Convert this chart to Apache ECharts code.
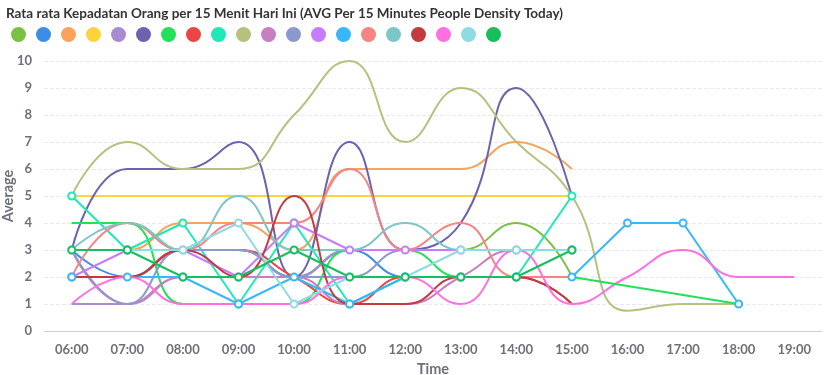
<!DOCTYPE html>
<html>
<head>
<meta charset="utf-8">
<script src="https://cdn.jsdelivr.net/npm/echarts@6/dist/echarts.min.js"></script>
<style>
html,body{margin:0;padding:0;background:#fff;}
#c{width:824px;height:375px;}
</style>
</head>
<body>
<div id="c"></div>
<script>
const categories = ['06:00','07:00','08:00','09:00','10:00','11:00','12:00','13:00','14:00','15:00','16:00','17:00','18:00','19:00'];
const yTicks = [0,1,2,3,4,5,6,7,8,9,10];

// series values (null = no data)
const lime      = [4,4,3,3,2,3,3,3,4,2];
const blue      = [3,2,3,3,2,3,2,2,2,2];
const orange    = [3,3,4,4,3,6,6,6,7,6];
const yellow    = [5,5,5,5,5,5,5,5,5,5];
const lavender  = [1,1,2,2,2,3,3,3,3,3];
const indigo    = [3,6,6,7,2,7,3,4,9,5];
const green     = [4,4,1,1,1,3,3,2,2,2];
const greenTail = [null,null,null,null,null,null,null,null,null,2,null,null,1];
const red       = [2,2,3,3,2,1,2,2,2,1];
const mint      = [5,3,4,1,4,1,2,2,2,5];
const olive     = [5,7,6,6,8,10,7,9,7,5,0.75,1,1];
const orchid    = [3,1,2,2,2,1,1,2,3,3];
const slate     = [3,1,3,3,2,2,3,3,3,3];
const violet    = [2,3,3,2,4,3,3,3,3,3];
const sky       = [2,2,2,1,2,1,2,2,2,2,4,4,1];
const salmon    = [2,4,3,4,4,6,3,4,2,2];
const tealgray  = [3,4,3,5,3,3,4,3,3,3];
const darkred   = [2,2,3,2,5,1,1,2,2,1];
const pink      = [1,2,1,1,1,2,2,1,3,1,2,3,2,2];
const cyan      = [3,3,3,4,1,2,2,3,3,3];
const darkgreen = [3,3,2,2,3,2,2,2,2,3];

// [name, data, colour, smooth]
const seriesDefs = [
  ['S1', lime, '#7ac143', true],
  ['S2', blue, '#3a8ee6', true],
  ['S3', orange, '#f7a35c', true],
  ['S4', yellow, '#ffd43b', true],
  ['S5', lavender, '#a98bd0', true],
  ['S6', indigo, '#6c62ae', true],
  ['S7', green, '#22e05a', true],
  ['S8', red, '#eb4545', true],
  ['S9', mint, '#1de9b6', false],
  ['S10', olive, '#b8c07e', true],
  ['S11', orchid, '#c77fc0', true],
  ['S12', slate, '#8c99cf', true],
  ['S13', violet, '#c57dfb', false],
  ['S14', sky, '#38b8f8', false],
  ['S15', salmon, '#f78383', true],
  ['S16', tealgray, '#7cc6c6', true],
  ['S17', darkred, '#c23b3f', true],
  ['S18', pink, '#ff6fe1', true],
  ['S19', cyan, '#8fdbe3', false],
  ['S20', darkgreen, '#16bf5c', false]
];

const series = seriesDefs.map(d => ({
  name: d[0], type: 'line', data: d[1],
  smooth: d[3],
  connectNulls: true,
  showSymbol: !d[3],
  symbol: 'emptyCircle', symbolSize: 7,
  lineStyle: {width: 2, color: d[2]},
  itemStyle: {borderWidth: 2, color: d[2]}
}));
// straight continuation of S7 across the empty hours
series.push({
  name: 'S7', type: 'line', data: greenTail, smooth: false, connectNulls: true,
  showSymbol: false, lineStyle: {width: 2, color: '#22e05a'}, itemStyle: {color: '#22e05a'}
});

const chart = echarts.init(document.getElementById('c'), null, {renderer:'canvas'});
const FONT = 'Lato';
chart.setOption({
  animation: false,
  title: {
    text: 'Rata rata Kepadatan Orang per 15 Menit Hari Ini (AVG Per 15 Minutes People Density Today)',
    left: 1, top: 2,
    textStyle: {fontFamily: FONT, fontWeight: 'bold', fontSize: 13.5, color: '#333'}
  },
  legend: {
    left: 6, top: 22,
    icon: 'circle', itemWidth: 15, itemHeight: 15, itemGap: 10,
    formatter: () => '',
    data: seriesDefs.map(d => ({name: d[0], itemStyle: {color: d[2]}}))
  },
  grid: {left: 44, right: 2, top: 61, bottom: 44, containLabel: false, outerBoundsMode: 'none'},
  xAxis: {
    type: 'category', data: categories, boundaryGap: true,
    name: 'Time', nameLocation: 'middle', nameGap: 31,
    nameTextStyle: {fontFamily: FONT, fontWeight: 'bold', fontSize: 14.5, color: '#6e7079'},
    axisLine: {lineStyle: {color: '#ccd1da'}},
    axisTick: {show: false},
    axisLabel: {fontFamily: FONT, fontWeight: 'bold', fontSize: 13, color: '#6e7079', margin: 12}
  },
  yAxis: {
    type: 'value', min: yTicks[0], max: yTicks[yTicks.length-1], interval: 1,
    name: 'Average', nameLocation: 'middle', nameGap: 28, nameRotate: 90,
    nameMoveOverlap: false,
    nameTextStyle: {fontFamily: FONT, fontWeight: 'bold', fontSize: 14.5, color: '#6e7079'},
    axisLine: {show: false}, axisTick: {show: false},
    axisLabel: {fontFamily: FONT, fontWeight: 'bold', fontSize: 13, color: '#6e7079', margin: 12},
    splitLine: {lineStyle: {type: 'dashed', color: '#e6e9ef'}}
  },
  series: series
});
</script>
</body>
</html>
